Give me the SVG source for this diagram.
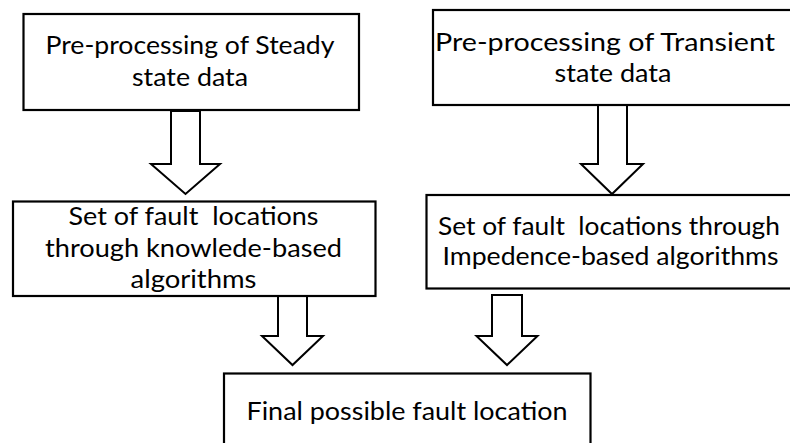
<svg xmlns="http://www.w3.org/2000/svg" width="790" height="443" viewBox="0 0 790 443">
  <style>
    .box { fill: #ffffff; stroke: #000000; stroke-width: 2.2; }
    .arrow { fill: #ffffff; stroke: #000000; stroke-width: 2; stroke-linejoin: miter; }
    .label { font-family: Lato, "Liberation Sans", Arial, sans-serif; font-size: 25px; fill: #000000; text-anchor: middle; }
  </style>
  <rect x="0" y="0" width="790" height="443" fill="#ffffff"/>

  <!-- block arrows between the stages -->
  <g id="connectors">
    <polygon class="arrow" points="171,111 200,111 200,164 220,164 185.5,194 151,164 171,164"/>
    <polygon class="arrow" points="598,105 627,105 627,164 643,164 612,194 581,164 598,164"/>
    <polygon class="arrow" points="278,296 307,296 307,336 323,336 292.5,365 262,336 278,336"/>
    <polygon class="arrow" points="492,295 522,295 522,336 537.5,336 507,365 476.5,336 492,336"/>
  </g>

  <g id="steady-preprocessing">
    <rect class="box" x="23.5" y="14" width="335.5" height="96"/>
    <text class="label" x="190" y="54" textLength="289" lengthAdjust="spacingAndGlyphs">Pre-processing of Steady</text>
    <text class="label" x="190" y="85.5" textLength="116" lengthAdjust="spacingAndGlyphs">state data</text>
  </g>

  <g id="transient-preprocessing">
    <rect class="box" x="433" y="10" width="380" height="95"/>
    <text class="label" x="605" y="51" textLength="340" lengthAdjust="spacingAndGlyphs">Pre-processing of Transient</text>
    <text class="label" x="613" y="82" textLength="117" lengthAdjust="spacingAndGlyphs">state data</text>
  </g>

  <g id="knowledge-based">
    <rect class="box" x="13" y="201.5" width="362.5" height="94.5"/>
    <text class="label" x="193.5" y="225" textLength="250" lengthAdjust="spacingAndGlyphs" xml:space="preserve">Set of fault  locations</text>
    <text class="label" x="193.5" y="256.5" textLength="297" lengthAdjust="spacingAndGlyphs">through knowlede-based</text>
    <text class="label" x="193.5" y="288" textLength="126" lengthAdjust="spacingAndGlyphs">algorithms</text>
  </g>

  <g id="impedance-based">
    <rect class="box" x="426.5" y="195" width="380" height="93.5"/>
    <text class="label" x="609" y="235" textLength="342" lengthAdjust="spacingAndGlyphs" xml:space="preserve">Set of fault  locations through</text>
    <text class="label" x="610.5" y="265" textLength="336" lengthAdjust="spacingAndGlyphs">Impedence-based algorithms</text>
  </g>

  <g id="final-location">
    <rect class="box" x="224" y="373.5" width="366.5" height="80"/>
    <text class="label" x="407" y="419.5" textLength="321" lengthAdjust="spacingAndGlyphs">Final possible fault location</text>
  </g>
</svg>
